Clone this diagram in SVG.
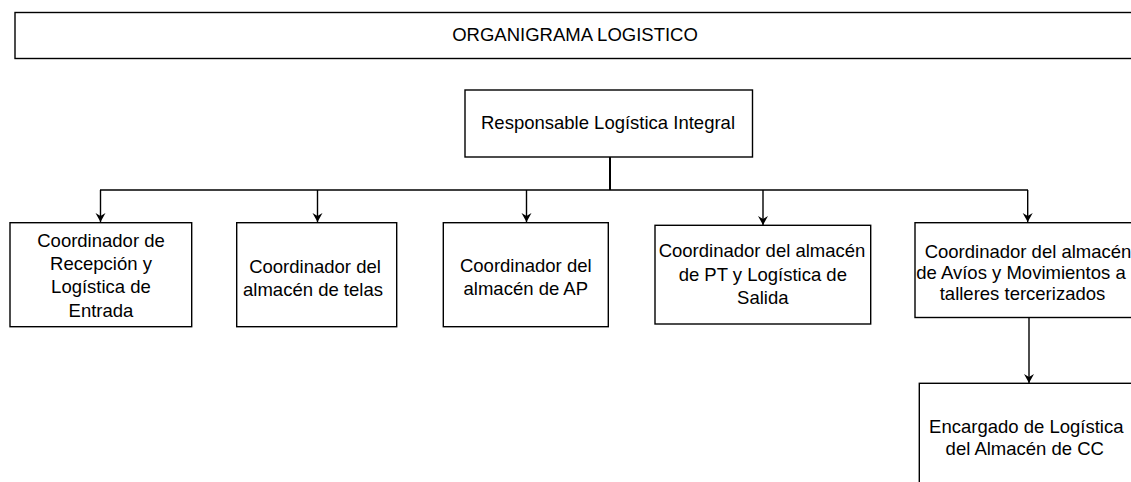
<svg xmlns="http://www.w3.org/2000/svg" width="1131" height="482" viewBox="0 0 1131 482">
<style>
.box{fill:#fff;stroke:#000;stroke-width:1.4}
.t{font-family:"Liberation Sans",Arial,sans-serif;font-size:18.5px;fill:#000;text-anchor:middle}
.c{fill:none;stroke:#000;stroke-width:1.4}
</style>
<defs>
<marker id="arr" markerUnits="userSpaceOnUse" markerWidth="12" markerHeight="12" viewBox="-10 -6 12 12" refX="0" refY="0" orient="auto" overflow="visible">
<path d="M-9,-5 L0,0 L-9,5 L-6,0 z" fill="#000"/>
</marker>
</defs>
<rect width="1131" height="482" fill="#fff"/>
<g id="title">
<rect class="box" x="15" y="12.5" width="1130" height="46"/>
<text class="t" x="575" y="40.7">ORGANIGRAMA LOGISTICO</text>
</g>
<g id="connectors">
<line x1="610" y1="157" x2="610" y2="190" stroke="#000" stroke-width="2"/>
<line x1="100" y1="190" x2="1028" y2="190" stroke="#000" stroke-width="1.6"/>
<path class="c" d="M100.5,190 V222" marker-end="url(#arr)"/>
<path class="c" d="M317.5,190 V222" marker-end="url(#arr)"/>
<path class="c" d="M526.5,190 V222" marker-end="url(#arr)"/>
<path class="c" d="M763,190 V225" marker-end="url(#arr)"/>
<path class="c" d="M1027.7,190 V222" marker-end="url(#arr)"/>
<path class="c" d="M1029,317.5 V383" marker-end="url(#arr)"/>
</g>
<g id="root">
<rect class="box" x="465" y="90" width="287.5" height="67"/>
<text class="t" x="608" y="129.3">Responsable Logística Integral</text>
</g>
<g id="n1">
<rect class="box" x="10" y="222.7" width="181.7" height="104"/>
<text class="t" x="101" y="246.7">Coordinador de</text>
<text class="t" x="101" y="270">Recepción y</text>
<text class="t" x="101" y="293.3">Logística de</text>
<text class="t" x="101" y="316.7">Entrada</text>
</g>
<g id="n2">
<rect class="box" x="236.7" y="222.7" width="160" height="104"/>
<text class="t" x="315" y="272.8">Coordinador del</text>
<text class="t" x="313" y="295.5">almacén de telas</text>
</g>
<g id="n3">
<rect class="box" x="443.3" y="222.7" width="165" height="104"/>
<text class="t" x="525.8" y="271.7">Coordinador del</text>
<text class="t" x="525.8" y="295">almacén de AP</text>
</g>
<g id="n4">
<rect class="box" x="655" y="225.3" width="215.7" height="98.7"/>
<text class="t" x="762" y="257.3">Coordinador del almacén</text>
<text class="t" x="762.8" y="280.7">de PT y Logística de</text>
<text class="t" x="762.8" y="304">Salida</text>
</g>
<g id="n5">
<rect class="box" x="915" y="222.7" width="225" height="94.8"/>
<text class="t" x="1028" y="258.3">Coordinador del almacén</text>
<text class="t" x="1021" y="279">de Avíos y Movimientos a</text>
<text class="t" x="1022.5" y="299.5">talleres tercerizados</text>
</g>
<g id="n6">
<rect class="box" x="919.3" y="383.3" width="220" height="120"/>
<text class="t" x="1026.3" y="432.7">Encargado de Logística</text>
<text class="t" x="1024.8" y="455">del Almacén de CC</text>
</g>
</svg>
